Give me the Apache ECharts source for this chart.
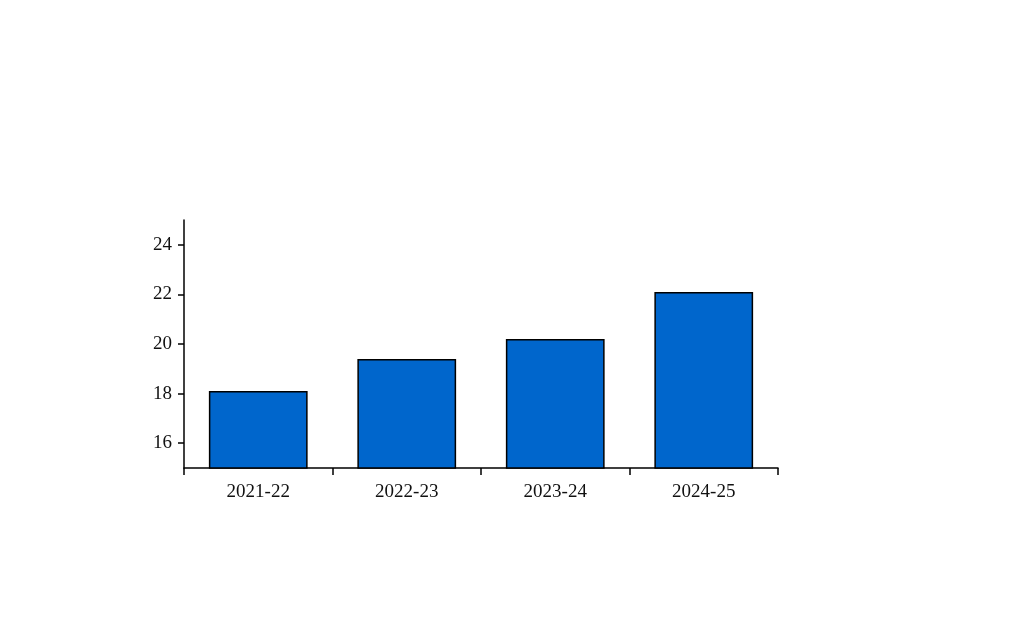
<!DOCTYPE html>
<html>
<head>
<meta charset="utf-8">
<script src="https://cdn.jsdelivr.net/npm/echarts@6/dist/echarts.min.js"></script>
<style>
    html, body { margin: 0; padding: 0; background: #fff; }
    #chart { width: 1024px; height: 627px; }
</style>
</head>
<body>
<div id="chart"></div>
<script type="text/javascript">
    var categories = ['2021-22', '2022-23', '2023-24', '2024-25'];
    var values = [18.1, 19.4, 20.2, 22.1];
    var y_ticks = [16, 18, 20, 22, 24];

    var chart = echarts.init(document.getElementById('chart'));
    var font = '"Liberation Serif", "DejaVu Serif", serif';

    chart.setOption({
        animation: false,
        grid: { left: 184, right: 246, top: 220, bottom: 159 },
        xAxis: {
            type: 'category',
            data: categories,
            axisLine: { lineStyle: { color: '#000', width: 1.5 } },
            axisTick: { show: true, length: 7, lineStyle: { color: '#000', width: 1.5 } },
            axisLabel: { color: '#111', fontFamily: font, fontSize: 19, margin: 15 },
            splitLine: { show: false }
        },
        yAxis: {
            type: 'value',
            min: 15,
            max: 25,
            interval: 1,
            axisLine: { show: true, lineStyle: { color: '#000', width: 1.5 } },
            axisTick: { show: true, length: 6, lineStyle: { color: '#000', width: 1.5 },
                customValues: y_ticks },
            axisLabel: { color: '#111', fontFamily: font, fontSize: 19, margin: 12,
                customValues: y_ticks },
            splitLine: { show: false }
        },
        series: [{
            type: 'bar',
            data: values,
            barWidth: '66.5%',
            itemStyle: { color: '#0066CC', borderColor: '#000', borderWidth: 1.5 }
        }]
    });
</script>
</body>
</html>
